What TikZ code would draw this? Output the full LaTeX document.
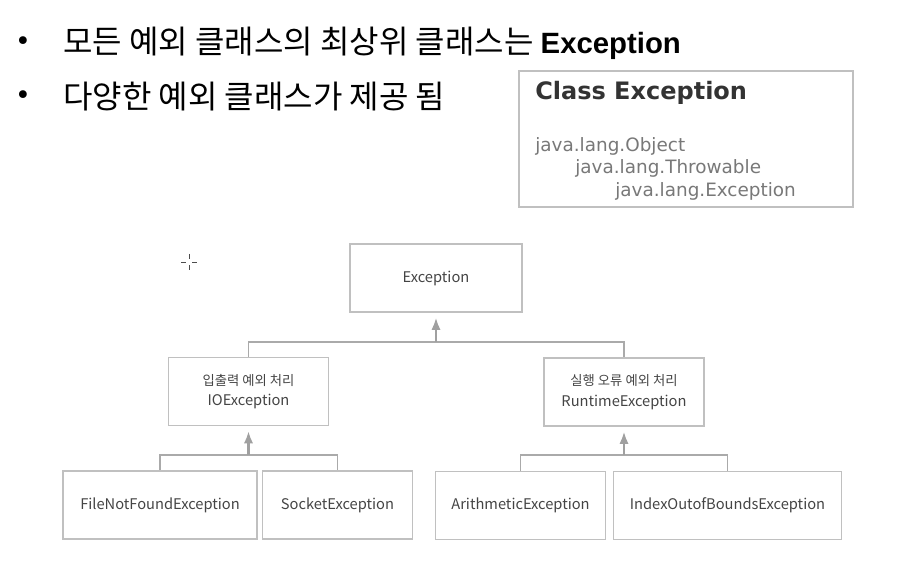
\documentclass[tikz,border=0pt]{standalone}
\usepackage{fontspec}
\setmainfont{Noto Sans CJK KR}
\newfontfamily\dejavu{DejaVu Sans}
\newfontfamily\arialish{Liberation Sans}
\usetikzlibrary{arrows.meta,positioning}
\definecolor{BoxGray}{RGB}{192,192,192}
\definecolor{LineGray}{RGB}{170,170,170}
\definecolor{ArrGray}{RGB}{160,160,160}
\definecolor{TxtGray}{RGB}{68,68,68}
\definecolor{JavaGray}{RGB}{120,120,120}
\newcommand{\latn}[1]{{\fontsize{11}{15.5}\selectfont #1}}

\begin{document}
\begin{tikzpicture}[x=0.75pt,y=-0.75pt,
    box/.style={draw=BoxGray,line width=0.9pt,inner sep=0pt,align=center,
      minimum height=51pt,text=TxtGray,font=\fontsize{10}{15.5}\selectfont},
    tree/.style={draw=LineGray,line width=1.1pt},
    arr/.style={draw=ArrGray,line width=2pt,-{Latex[length=9.5pt,width=7pt]},shorten >=3.5pt},
    bullet/.style={anchor=center,font=\dejavu\fontsize{20}{22}\selectfont},
    line/.style={anchor=west,inner sep=0pt,font=\fontsize{24}{28}\selectfont},
    java/.style={anchor=west,inner sep=0pt,text=JavaGray,font=\dejavu\fontsize{13.8}{16}\selectfont}]
  \useasboundingbox (0,0) rectangle (899,566);

  % bullets
  \node[bullet] (b1) at (23,44) {•};
  \node[line] (t1) at (63,43) {모든 예외 클래스의 최상위 클래스는 {\arialish\bfseries\fontsize{22}{26}\selectfont Exception}};
  \node[bullet] (b2) at (23,98) {•};
  \node[line] (t2) at (63,97) {다양한 예외 클래스가 제공 됨};

  % class box
  \node[draw=BoxGray,line width=0.9pt,minimum width=250.5pt,minimum height=102pt] (cls) at (686,139) {};
  \node[anchor=west,inner sep=0pt,text=black!80,font=\dejavu\bfseries\fontsize{18}{20}\selectfont] (title) at (535,93) {Class Exception};
  \node[java] (obj) at (535,146) {java.lang.Object};
  \node[java] (thr) at (575,168) {java.lang.Throwable};
  \node[java] (exn) at (615,191) {java.lang.Exception};

  % cursor
  \draw[black!70,line width=0.7pt] (181,262) -- (186,262) (192,262) -- (197,262)
    (189,254) -- (189,259) (189,265) -- (189,270);

  % hierarchy
  \node[box,minimum width=129pt] (exc) at (436,278) {\latn{Exception}};
  \node[box,minimum width=120pt] (io) at (248.5,391.5) {입출력 예외 처리\\\latn{IOException}};
  \node[box,minimum width=120pt] (rt) at (624,392) {실행 오류 예외 처리\\\latn{RuntimeException}};
  \node[box,minimum width=145.5pt] (fnf) at (160,505) {\latn{FileNotFoundException}};
  \node[box,minimum width=112pt] (sock) at (337.5,505) {\latn{SocketException}};
  \node[box,minimum width=128pt] (arith) at (520.5,505.5) {\latn{ArithmeticException}};
  \node[box,minimum width=171.5pt] (idx) at (727.5,505.5) {\latn{IndexOutofBoundsException}};

  \coordinate (j1) at (436,342);
  \coordinate (j2) at (248.5,455);
  \coordinate (j3) at (624,455);

  \draw[tree] (io.north) |- (j1) -| (rt.north);
  \draw[arr] (j1) -- (exc.south);
  \draw[tree] (fnf.north) |- (j2) -| (sock.north);
  \draw[arr] (j2) -- (io.south);
  \draw[tree] (arith.north) |- (j3) -| (idx.north);
  \draw[arr] (j3) -- (rt.south);
\end{tikzpicture}
\end{document}
